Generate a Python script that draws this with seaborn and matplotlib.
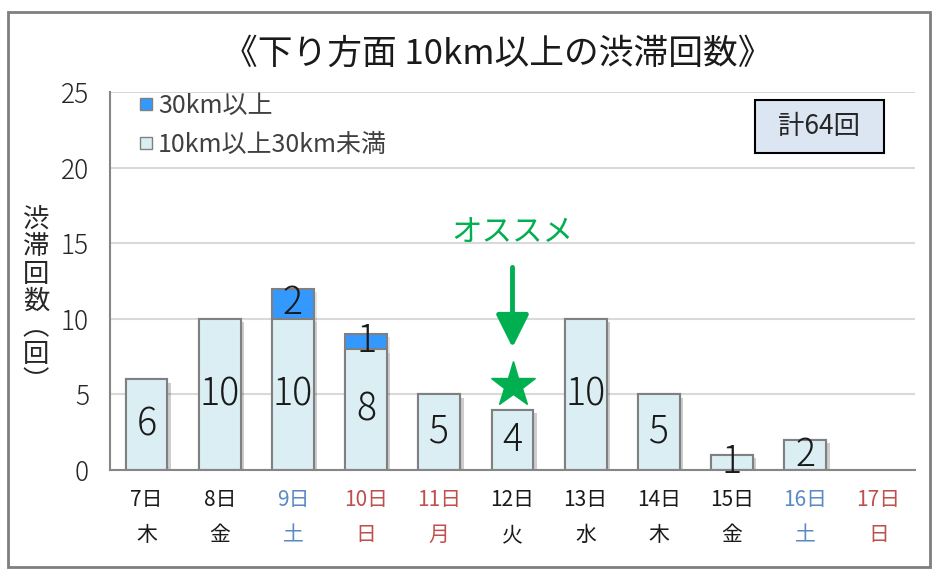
import matplotlib
matplotlib.use("Agg")
import matplotlib.pyplot as plt
import matplotlib.patheffects as pe
from matplotlib.lines import Line2D
from matplotlib.patches import Rectangle
import pandas as pd
import seaborn as sns

# データ
days = ["7日", "8日", "9日", "10日", "11日", "12日", "13日", "14日", "15日", "16日", "17日"]
weekdays = ["木", "金", "土", "日", "月", "火", "水", "木", "金", "土", "日"]
holidays = ["11日"]
under30 = [6, 10, 10, 8, 5, 4, 10, 5, 1, 2, 0]   # 10km以上30km未満
over30 = [0, 0, 2, 1, 0, 0, 0, 0, 0, 0, 0]       # 30km以上
recommend = "12日"

df = pd.DataFrame({
    "label": [d + "\n" + w for d, w in zip(days, weekdays)],
    "under": under30,
    "total": [a + b for a, b in zip(under30, over30)],
})

sns.set_theme(style="white")
plt.rcParams["font.family"] = ["Noto Sans CJK JP", "DejaVu Sans"]

LIGHT = "#DAEEF3"
BLUE = "#3399FF"
EDGE = "#808080"
GREEN = "#00B050"

fig = plt.figure(figsize=(9.41, 5.8), dpi=100)
ax = fig.add_axes([110 / 941, 110 / 580, 805 / 941, 378 / 580])

shadow = [pe.SimplePatchShadow(offset=(2.5, -2.5), alpha=0.1, shadow_rgbFace="black"), pe.Normal()]

# 合計を青で描き、その上に10km以上30km未満を重ねる
sns.barplot(data=df, x="label", y="total", color=BLUE, edgecolor=EDGE, linewidth=1.5,
            width=0.57, saturation=1, ax=ax)
sns.barplot(data=df, x="label", y="under", color=LIGHT, edgecolor=EDGE, linewidth=1.5,
            width=0.57, saturation=1, ax=ax)
for p in ax.patches:
    if p.get_height() == 0:
        p.set_visible(False)
    else:
        p.set_path_effects(shadow)

for i, (u, o) in enumerate(zip(under30, over30)):
    if u > 0:
        ax.text(i, u / 2, str(u), ha="center", va="center", fontsize=27, color="#1a1a1a",
                fontweight="light")
    if o > 0:
        ax.text(i, u + o / 2, str(o), ha="center", va="center", fontsize=27, color="#1a1a1a",
                fontweight="light")

ax.set_ylim(0, 25)
ax.set_xlim(-0.5, len(days) - 0.5)
ax.set_yticks(range(0, 26, 5))
ax.set_xlabel("")
ax.set_ylabel("")
ax.yaxis.grid(True, color="#d9d9d9", linewidth=1.5)
ax.set_axisbelow(True)
for s in ["top", "right"]:
    ax.spines[s].set_visible(False)
for s in ["left", "bottom"]:
    ax.spines[s].set_color("#868686")
    ax.spines[s].set_linewidth(1.5)
ax.tick_params(axis="y", length=6, width=1.5, color="#868686", direction="out",
               labelsize=19, pad=9, labelcolor="#262626")
for lbl in ax.get_yticklabels():
    lbl.set_fontweight("light")
ax.tick_params(axis="x", length=0, labelsize=15, pad=14)
for lbl, d, w in zip(ax.get_xticklabels(), days, weekdays):
    lbl.set_linespacing(1.75)
    if w == "土":
        lbl.set_color("#5A8AC6")
    elif w == "日" or d in holidays:
        lbl.set_color("#C0504D")
    else:
        lbl.set_color("#1a1a1a")

# オススメ
k = days.index(recommend)
ax.annotate("", xy=(k, 8.1), xytext=(k, 13.4),
            arrowprops=dict(arrowstyle="-|>,head_length=0.8,head_width=0.4", color=GREEN,
                            lw=3.5, mutation_scale=25, shrinkA=0, shrinkB=0))
ax.plot(k, under30[k] + 1.6, marker="*", markersize=34, color=GREEN, linestyle="none")
ax.text(k, 15.7, "オススメ", ha="center", va="center", fontsize=22, color=GREEN)

# 凡例
handles = [
    Line2D([], [], marker="s", linestyle="none", markersize=9, markerfacecolor=BLUE,
           markeredgecolor=EDGE, label="30km以上"),
    Line2D([], [], marker="s", linestyle="none", markersize=9, markerfacecolor=LIGHT,
           markeredgecolor=EDGE, label="10km以上30km未満"),
]
fig.legend(handles=handles, loc="upper left", bbox_to_anchor=(138 / 941, 1 - 93 / 580),
           bbox_transform=fig.transFigure, frameon=False, fontsize=18, labelcolor="#404040",
           handlelength=0.6, handletextpad=0.2, labelspacing=0.5, borderpad=0,
           borderaxespad=0)

# 計
fig.patches.append(Rectangle((755 / 941, 1 - 153 / 580), 129 / 941, 53 / 580,
                             transform=fig.transFigure, facecolor="#DCE6F2",
                             edgecolor="black", linewidth=1.5))
fig.text(819 / 941, 1 - 126 / 580, "計" + str(sum(under30) + sum(over30)) + "回",
         ha="center", va="center", fontsize=19, color="#262626")

# タイトル・軸ラベル
fig.text(498 / 941, 1 - 54 / 580, "《下り方面 10km以上の渋滞回数》", ha="center", va="center",
         fontsize=25, color="#1a1a1a")
fig.text(36 / 941, 1 - 301 / 580, "渋\n滞\n回\n数\n︵\n回\n︶", ha="center", va="center",
         fontsize=19, linespacing=1.0, color="#262626")

# 外枠
fig.patches.append(Rectangle((8 / 941, 1 - 567 / 580), 922 / 941, 555 / 580,
                             transform=fig.transFigure, facecolor="none",
                             edgecolor="#7f7f7f", linewidth=2))

fig.savefig("out.png", dpi=100)
